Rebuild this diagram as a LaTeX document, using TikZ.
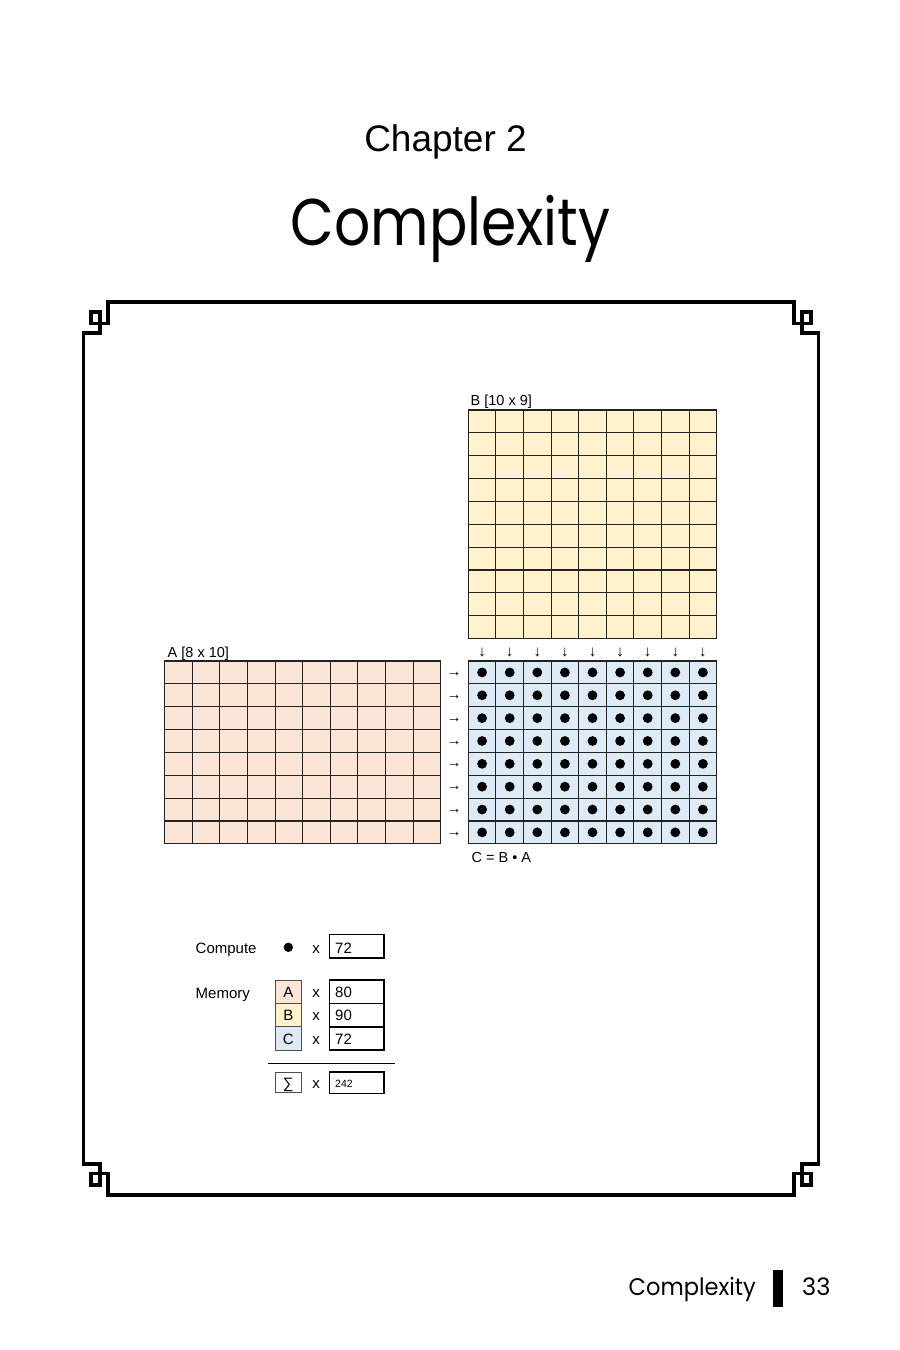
\documentclass[tikz,border=0pt]{standalone}
\usepackage{fontspec}
\setmainfont{Liberation Sans}
\newfontfamily\titlefont{Poppins}
\definecolor{apeach}{HTML}{FCE4D6}
\definecolor{byellow}{HTML}{FFF2CC}
\definecolor{cblue}{HTML}{DEEBF7}
\definecolor{gridc}{HTML}{222222}
\tikzset{
  cell/.style={draw=gridc, line width=1.1pt},
  lab/.style={inner sep=0pt, font=\fontsize{14.5}{15}\selectfont},
  leg/.style={inner sep=0pt, font=\fontsize{15}{15}\selectfont},
  arr/.style={inner sep=0pt, font=\fontsize{15}{15}\selectfont},
  valbox/.style={draw=black, line width=1.6pt},
  keybox/.style={draw=gridc!80, line width=0.9pt},
  frameline/.style={line width=3.8pt, line join=miter, line cap=rect}
}
\begin{document}
\begin{tikzpicture}[x=1pt,y=-1pt]
\useasboundingbox (0,0) rectangle (900,1350);
\fill[white] (0,0) rectangle (900,1350);

% titles
\node[anchor=base, inner sep=0pt, font=\fontsize{37}{37}\selectfont] (chap) at (445.5,151.7) {Chapter 2};
\node[anchor=base, inner sep=0pt, xscale=0.86, font=\titlefont\fontsize{66}{66}\selectfont] (title) at (450.5,245) {Complexity};

% decorative frame
\draw[frameline]
  (108,302) -- (108,323.5) -- (91,323.5) -- (91,312) -- (100,312) -- (100,333) -- (83.5,333)
  -- (83.5,1164) -- (100,1164) -- (100,1185) -- (91,1185) -- (91,1173.5) -- (108,1173.5) -- (108,1195)
  -- (794,1195) -- (794,1173.5) -- (811,1173.5) -- (811,1185) -- (802,1185) -- (802,1164) -- (818.5,1164)
  -- (818.5,333) -- (802,333) -- (802,312) -- (811,312) -- (811,323.5) -- (794,323.5) -- (794,302)
  -- cycle;

% matrix B
\foreach \i in {0,...,8} \foreach \j in {0,...,9}
  \draw[cell, fill=byellow] ({468.3+\i*27.6},{410+\j*22.85}) rectangle ++(27.6,22.85);
% matrix A
\foreach \i in {0,...,9} \foreach \j in {0,...,7}
  \draw[cell, fill=apeach] ({164.7+\i*27.6},{661+\j*22.85}) rectangle ++(27.6,22.85);
% matrix C
\foreach \i in {0,...,8} \foreach \j in {0,...,7} {
  \draw[cell, fill=cblue] ({468.3+\i*27.6},{661+\j*22.85}) rectangle ++(27.6,22.85);
  \fill ({468.3+(\i+0.5)*27.6},{661+(\j+0.5)*22.85}) circle[radius=4.9pt];
}

% arrows
\foreach \i in {0,...,8}
  \node[arr] (da\i) at ({468.3+(\i+0.5)*27.6},652) {↓};
\foreach \j in {0,...,7}
  \node[arr] (ra\j) at (454,{663+(\j+0.5)*22.85}) {→};

% labels
\node[lab, anchor=base west] (labB) at (470.5,405.5) {B [10 x 9]};
\node[lab, anchor=base west] (labA) at (167.5,657.5) {A [8 x 10]};
\node[lab, anchor=base west] (labC) at (471.5,862) {C = B • A};

% legend
\node[leg, anchor=base west] (comp) at (195.5,953.3) {Compute};
\fill (288.3,947.3) circle[radius=4.7pt];
\node[leg, anchor=base] (x0) at (316,953.3) {x};
\draw[valbox] (329.5,934.5) rectangle (384,958);
\node[leg, anchor=base west] (v0) at (335,953.3) {72};

\node[leg, anchor=base west] (mem) at (195.5,998.5) {Memory};
\draw[keybox, fill=apeach] (275,980) rectangle (301.7,1003.3);
\draw[keybox, fill=byellow] (275,1003.3) rectangle (301.7,1026.7);
\draw[keybox, fill=cblue] (275,1026.7) rectangle (301.7,1050);
\node[leg, anchor=base] (kA) at (288.3,997.5) {A};
\node[leg, anchor=base] (kB) at (288.3,1020.9) {B};
\node[leg, anchor=base] (kC) at (288.3,1044.2) {C};
\node[leg, anchor=base] (x1) at (316,997.5) {x};
\node[leg, anchor=base] (x2) at (316,1020.9) {x};
\node[leg, anchor=base] (x3) at (316,1044.2) {x};
\draw[valbox] (329.5,980) rectangle (384,1003.3);
\draw[valbox] (329.5,1003.3) rectangle (384,1026.7);
\draw[valbox] (329.5,1026.7) rectangle (384,1050);
\node[leg, anchor=base west] (v1) at (335,997.5) {80};
\node[leg, anchor=base west] (v2) at (335,1020.9) {90};
\node[leg, anchor=base west] (v3) at (335,1044.2) {72};

\draw[line width=1.5pt] (268.3,1063.3) -- (395,1063.3);

\draw[keybox] (275,1072) rectangle (301.7,1092.5);
\node[leg, anchor=base] (ksum) at (288.3,1088.5) {∑};
\node[leg, anchor=base] (x4) at (316,1088.5) {x};
\draw[valbox] (329.5,1072) rectangle (384,1093.5);
\node[inner sep=0pt, anchor=base west, font=\fontsize{10.5}{11}\selectfont] (v4) at (335,1087) {242};

% footer
\node[anchor=base east, inner sep=0pt, xscale=0.94, font=\titlefont\fontsize{24}{24}\selectfont] (foot) at (756,1295) {Complexity};
\fill (773,1270) rectangle (782.5,1306.5);
\node[anchor=base west, inner sep=0pt, font=\titlefont\fontsize{24}{24}\selectfont] (page) at (802,1295) {33};
\end{tikzpicture}
\end{document}
